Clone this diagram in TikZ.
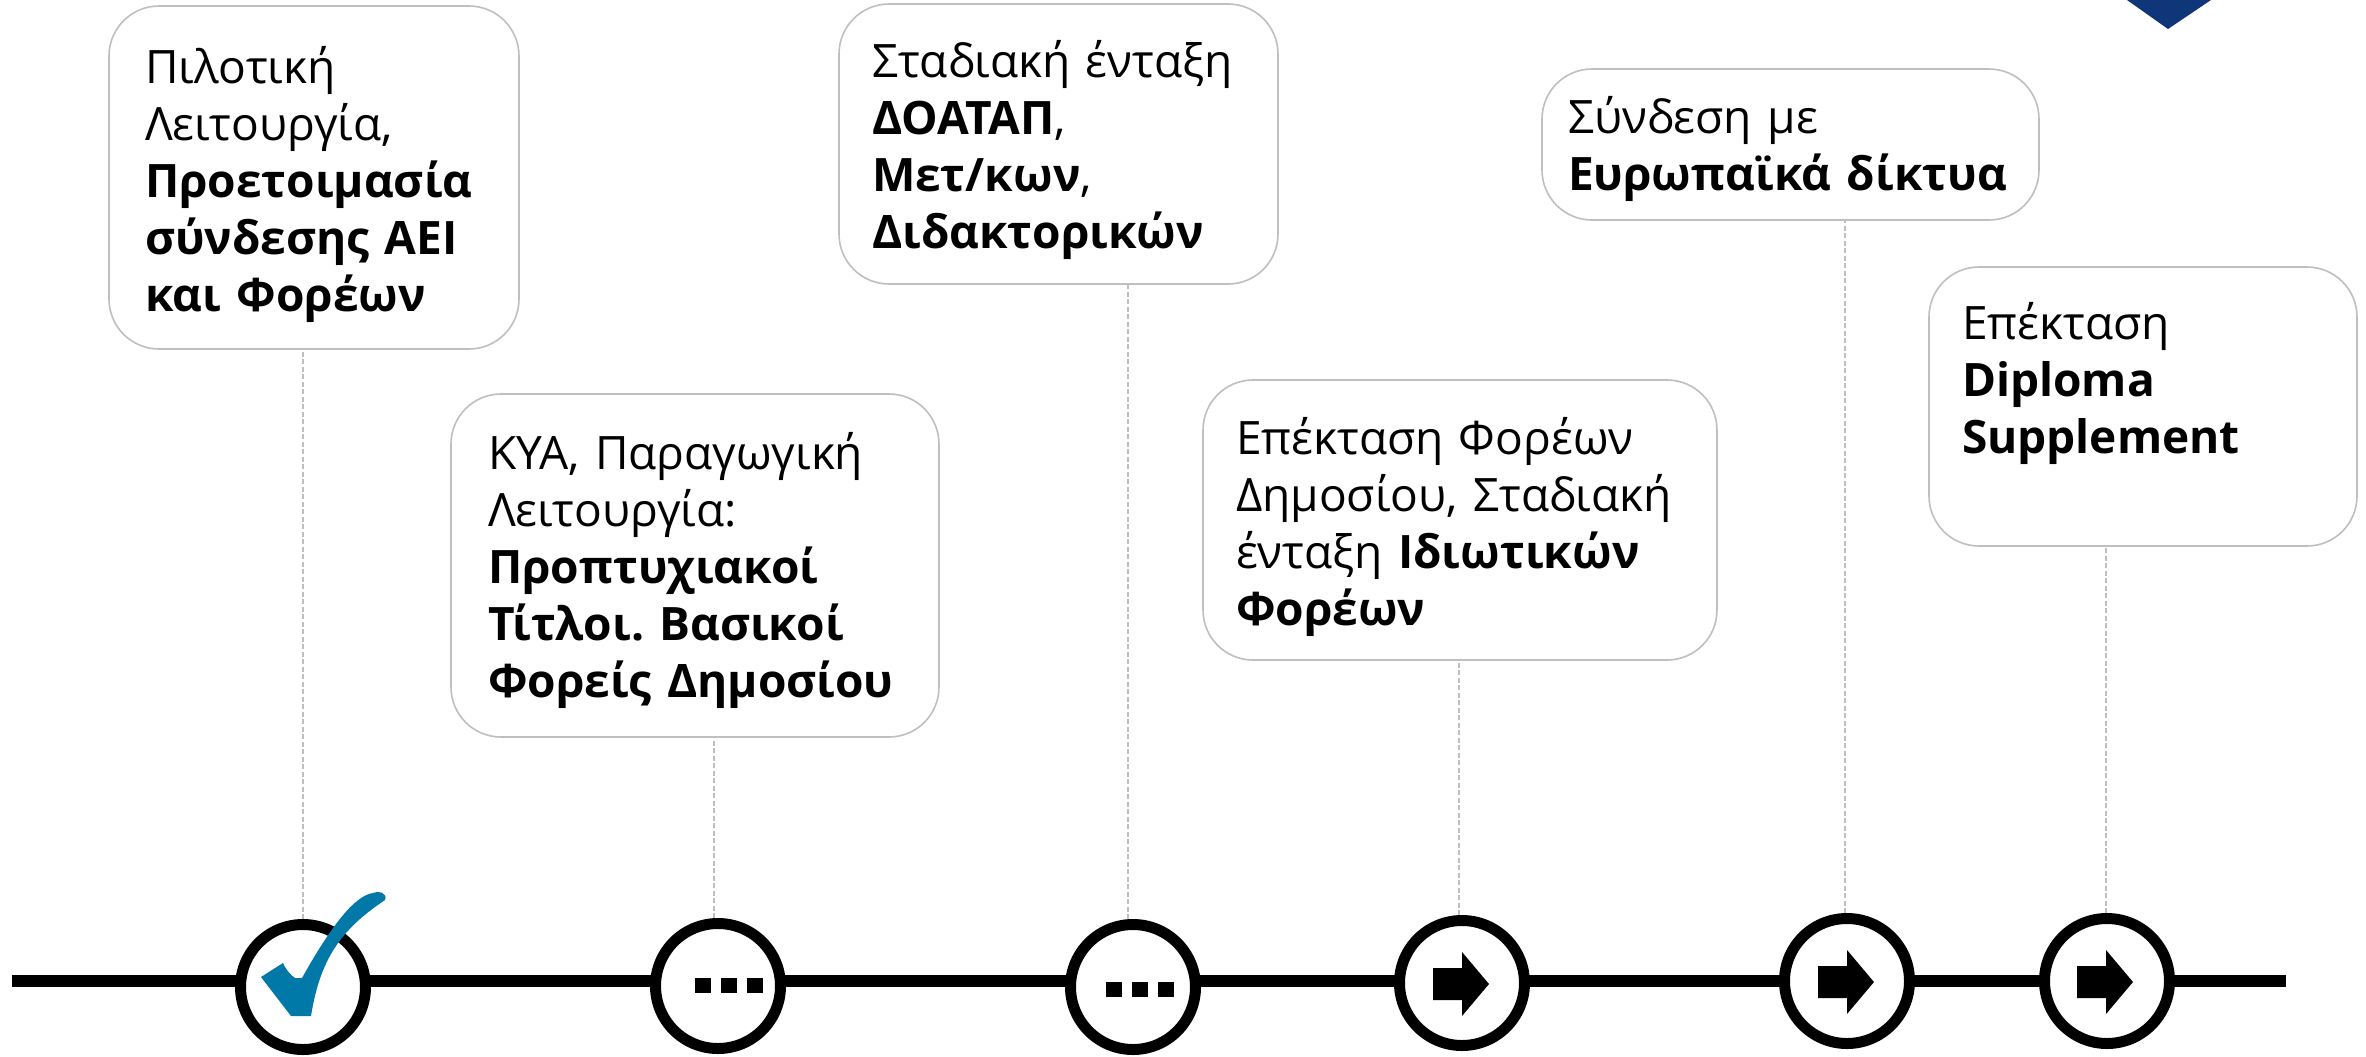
\documentclass[tikz,border=0pt]{standalone}
\usepackage{fontspec}
\setmainfont{Open Sans}
\frenchspacing
\definecolor{bubbleline}{HTML}{BFBFBF}
\definecolor{checkblue}{HTML}{0078A8}
\definecolor{cornerblue}{HTML}{0F3679}
\tikzset{
  bubble/.style n args={4}{draw=bubbleline, line width=.016cm, fill=white, rounded corners=.5cm,
    anchor=north west, outer sep=0pt, inner ysep=0pt, align=left,
    minimum width=#1cm, minimum height=#2cm, inner xsep=#3cm, text width={#1cm-2*#3cm},
    execute at end node={\vspace*{-#4cm}},
    font=\fontsize{13.1}{16.25}\selectfont},
  stopdot/.style={circle, draw=black, fill=white, line width=.11cm, inner sep=0pt, minimum size=1.25cm},
  leader/.style={draw=bubbleline, line width=.012cm, dash pattern=on .05cm off .025cm}
}
\begin{document}
\begin{tikzpicture}[y=-1cm]
        \useasboundingbox (0,0) rectangle (23.66,10.56);
        \fill[cornerblue] (21.27,0) -- (21.68,.29) -- (22.11,0) -- cycle;
        \coordinate (lineA) at (.12,9.81);
        \coordinate (lineB) at (22.86,9.81);
        \draw[line width=.12cm] (lineA) -- (lineB);
        \foreach \n/\x/\y in {1/3.03/9.87,2/7.18/9.86,3/11.33/9.87,4/14.62/9.83,5/18.47/9.81,6/21.07/9.81}{
          \node[stopdot] (dot\n) at (\x,\y) {};
        }
        \node[bubble={4.10}{3.43}{.36}{.14}] (box1) at (1.09,.06) {Πιλοτική\\Λειτουργία,\\\textbf{Προετοιμασία}\\\textbf{σύνδεσης ΑΕΙ}\\\textbf{και Φορέων}};
        \node[bubble={4.88}{3.43}{.37}{.10}] (box2) at (4.51,3.94) {ΚΥΑ, Παραγωγική\\Λειτουργία:\\\textbf{Προπτυχιακοί}\\\textbf{Τίτλοι. Βασικοί}\\\textbf{Φορείς Δημοσίου}};
        \node[bubble={4.39}{2.80}{.33}{.12}] (box3) at (8.39,.04) {Σταδιακή ένταξη\\\textbf{ΔΟΑΤΑΠ},\\\textbf{Μετ/κων},\\\textbf{Διδακτορικών}};
        \node[bubble={5.14}{2.80}{.33}{.14}] (box4) at (12.03,3.80) {Επέκταση Φορέων\\Δημοσίου, Σταδιακή\\ένταξη \textbf{Ιδιωτικών}\\\textbf{Φορέων}};
        \node[bubble={4.97}{1.51}{.26}{.09}] (box5) at (15.42,.69) {Σύνδεση με\\\textbf{Ευρωπαϊκά δίκτυα}};
        \node[bubble={4.28}{2.79}{.33}{0}] (box6) at (19.29,2.67) {Επέκταση\\\textbf{Diploma}\\\textbf{Supplement}\\\mbox{}};
        % leaders sit a little left of the centres
        \foreach \n/\d in {1/0,2/-.04,3/-.05,4/-.03,5/-.02,6/-.01}{
          \draw[leader] ([xshift=\d cm]dot\n.north) -- ([xshift=\d cm]dot\n.north |- box\n.south);
        }
        \foreach \x/\y in {6.95/9.78,11.06/9.82}{
          \foreach \i in {0,.26,.52}{
            \fill (\x+\i,\y) rectangle (\x+\i+.16,\y+.15);
          }
        }
        \foreach \x/\y in {14.62/9.84,18.47/9.82,21.06/9.82}{
          \fill (\x-.29,\y-.16) -- (\x,\y-.16) -- (\x,\y-.32) -- (\x+.27,\y) -- (\x,\y+.32) -- (\x,\y+.16) -- (\x-.29,\y+.16) -- cycle;
        }
        \fill[checkblue] (2.83,9.63) -- (2.61,9.77) -- (2.91,10.16) -- (3.11,10.16)
          .. controls (3.2,9.6) and (3.4,9.3) .. (3.85,9.0)
          .. controls (3.88,8.93) and (3.78,8.9) .. (3.73,8.93)
          .. controls (3.6,8.95) and (3.4,9.1) .. (3.02,9.78) -- (2.95,9.78)
          .. controls (2.9,9.75) and (2.85,9.68) .. (2.83,9.63) -- cycle;
      \end{tikzpicture}
\end{document}
